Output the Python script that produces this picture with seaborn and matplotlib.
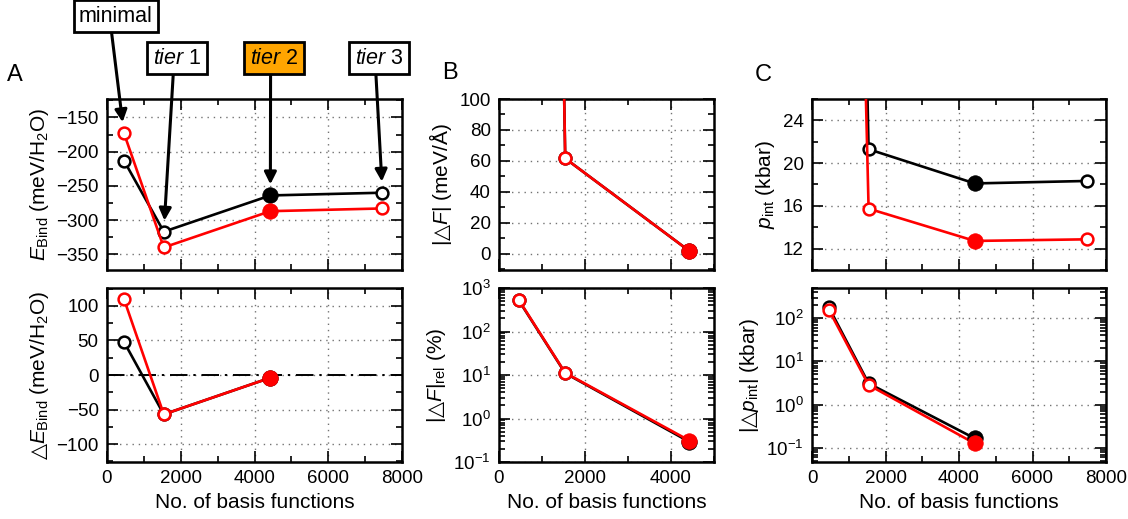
import matplotlib
matplotlib.use("Agg")
import matplotlib.pyplot as plt
import matplotlib.ticker as mticker
import numpy as np
import pandas as pd
import seaborn as sns

# ---- data -------------------------------------------------------------
basis_n = [460, 1540, 4430, 7470]          # minimal, tier 1, tier 2, tier 3
basis_names = ["minimal", "tier 1", "tier 2", "tier 3"]
ref_index = 2                              # tier 2 is the reference basis

ebind_black = [-213, -317, -264, -260]
ebind_red = [-173, -340, -287, -283]

debind_black = [48, -57, -4]
debind_red = [110, -57, -4]

force_black = [1800, 61.6, 1.7]
force_red = [1800, 61.6, 1.7]

force_rel_black = [520, 11.0, 0.29]
force_rel_red = [532, 11.2, 0.31]

p_black = [195, 21.3, 18.1, 18.33]
p_red = [169, 15.74, 12.72, 12.87]

dp_black = [177, 3.1, 0.165]
dp_red = [156, 2.85, 0.126]

# ---- style ------------------------------------------------------------
sns.set_style("ticks")
plt.rcParams["font.family"] = ["Liberation Sans", "DejaVu Sans"]
plt.rcParams["mathtext.fontset"] = "custom"
plt.rcParams["mathtext.rm"] = "Liberation Sans"
plt.rcParams["mathtext.it"] = "Liberation Sans:italic"
plt.rcParams["mathtext.bf"] = "Liberation Sans:bold"
plt.rcParams["mathtext.sf"] = "DejaVu Sans"
plt.rcParams["axes.unicode_minus"] = True
for key in ["axes.edgecolor", "xtick.color", "ytick.color", "text.color",
            "axes.labelcolor"]:
    plt.rcParams[key] = "black"

TICK_FS = 13.5
LABEL_FS = 15
RED = "#ff0000"
BLACK = "#000000"
TRI = r"\mathsf{△}"

fig = plt.figure(figsize=(11.28, 5.19), dpi=100)
W, H = 1128.0, 519.0


def add_axes(left, top, right, bottom):
    return fig.add_axes([left / W, 1 - bottom / H, (right - left) / W, (bottom - top) / H])


axA1 = add_axes(107, 99, 402, 270)
axA2 = add_axes(107, 288, 402, 462)
axB1 = add_axes(499, 99, 714, 270)
axB2 = add_axes(499, 288, 714, 462)
axC1 = add_axes(812, 99, 1106, 270)
axC2 = add_axes(812, 288, 1106, 462)


def style(ax, xmax, xlabels):
    for s in ax.spines.values():
        s.set_linewidth(1.8)
        s.set_color("black")
    ax.set_xlim(0, xmax)
    ax.xaxis.set_major_locator(mticker.MultipleLocator(2000))
    ax.xaxis.set_minor_locator(mticker.MultipleLocator(1000))
    ax.tick_params(which="both", direction="in", top=True, right=True,
                   labelsize=TICK_FS, width=1.2, pad=6, color="black")
    ax.tick_params(which="major", length=8)
    ax.tick_params(which="minor", length=4.5)
    ax.grid(True, which="major", ls=(0, (1, 3.5)), color="0.45", lw=1)
    ax.set_axisbelow(True)
    if xlabels:
        ax.set_xlabel("No. of basis functions", fontsize=LABEL_FS)
    else:
        ax.tick_params(labelbottom=False)


def series(ax, xs, ys, color):
    df = pd.DataFrame({"n": xs, "v": ys})
    sns.lineplot(data=df, x="n", y="v", ax=ax, color=color, lw=1.9,
                 estimator=None, sort=False, marker="o", markersize=8.5,
                 markerfacecolor="white", markeredgecolor=color,
                 markeredgewidth=1.8, zorder=3)
    ref = df.iloc[[ref_index]] if len(df) > ref_index else df.iloc[[]]
    sns.scatterplot(data=ref, x="n", y="v", ax=ax, color=color, s=125,
                    edgecolor=color, linewidth=0.5, zorder=4)
    ax.set_xlabel("")
    ax.set_ylabel("")


# ---- panel A ----------------------------------------------------------
series(axA1, basis_n, ebind_black, BLACK)
series(axA1, basis_n, ebind_red, RED)
style(axA1, 8000, False)
axA1.set_ylim(-373, -123)
axA1.yaxis.set_major_locator(mticker.MultipleLocator(50))
axA1.yaxis.set_minor_locator(mticker.MultipleLocator(25))
axA1.set_ylabel(r"$E_{\rm Bind}$ (meV/H$_2$O)", fontsize=LABEL_FS)

axA2.axhline(0, color="black", lw=1.4, ls=(0, (9, 3, 1.2, 3)), zorder=2)
series(axA2, basis_n[:3], debind_black, BLACK)
series(axA2, basis_n[:3], debind_red, RED)
style(axA2, 8000, True)
axA2.set_ylim(-126, 126)
axA2.yaxis.set_major_locator(mticker.MultipleLocator(50))
axA2.yaxis.set_minor_locator(mticker.MultipleLocator(25))
axA2.set_ylabel(r"$" + TRI + r"E_{\rm Bind}$ (meV/H$_2$O)", fontsize=LABEL_FS)

# ---- panel B ----------------------------------------------------------
series(axB1, basis_n[:3], force_black, BLACK)
series(axB1, basis_n[:3], force_red, RED)
style(axB1, 5000, False)
axB1.set_ylim(-10.5, 100)
axB1.yaxis.set_major_locator(mticker.MultipleLocator(20))
axB1.yaxis.set_minor_locator(mticker.MultipleLocator(10))
axB1.set_ylabel(r"$|" + TRI + r"F|$ (meV/Å)", fontsize=LABEL_FS)

series(axB2, basis_n[:3], force_rel_black, BLACK)
series(axB2, basis_n[:3], force_rel_red, RED)
axB2.set_yscale("log")
style(axB2, 5000, True)
axB2.set_ylim(0.1, 1000)
axB2.yaxis.set_major_locator(mticker.LogLocator(base=10, numticks=10))
axB2.yaxis.set_minor_locator(mticker.LogLocator(base=10, subs=np.arange(2, 10), numticks=10))
axB2.set_ylabel(r"$|" + TRI + r"F|_{\rm rel}$ (%)", fontsize=LABEL_FS)

# ---- panel C ----------------------------------------------------------
series(axC1, basis_n, p_black, BLACK)
series(axC1, basis_n, p_red, RED)
style(axC1, 8000, False)
axC1.set_ylim(10, 26)
axC1.yaxis.set_major_locator(mticker.MultipleLocator(4))
axC1.yaxis.set_minor_locator(mticker.MultipleLocator(2))
axC1.set_ylabel(r"$p_{\rm int}$ (kbar)", fontsize=LABEL_FS)

series(axC2, basis_n[:3], dp_black, BLACK)
series(axC2, basis_n[:3], dp_red, RED)
axC2.set_yscale("log")
style(axC2, 8000, True)
axC2.set_ylim(0.047, 500)
axC2.yaxis.set_major_locator(mticker.LogLocator(base=10, numticks=10))
axC2.yaxis.set_minor_locator(mticker.LogLocator(base=10, subs=np.arange(2, 10), numticks=10))
axC2.set_ylabel(r"$|" + TRI + r"p_{\rm int}|$ (kbar)", fontsize=LABEL_FS)

# align y labels of stacked panels
for a, b in [(axA1, axA2), (axB1, axB2), (axC1, axC2)]:
    fig.align_ylabels([a, b])

# ---- panel letters ----------------------------------------------------
for label, (px, py) in zip("ABC", [(15, 75), (450, 73), (763, 75)]):
    fig.text(px / W, 1 - py / H, label, fontsize=17, ha="center", va="center")

# ---- basis-set annotations --------------------------------------------
box_centres = [(116, 16), (177, 58), (274, 58), (379, 58)]
box_labels = ["minimal", r"$\mathit{tier}$ 1", r"$\mathit{tier}$ 2", r"$\mathit{tier}$ 3"]
targets = [ebind_red[0], ebind_black[1], ebind_black[2], ebind_black[3]]
for i, (lab, (cx, cy), ty) in enumerate(zip(box_labels, box_centres, targets)):
    face = "#ffa500" if i == ref_index else "white"
    axA1.annotate(
        lab, xy=(basis_n[i], ty), xycoords="data",
        xytext=(cx / W, 1 - cy / H), textcoords="figure fraction",
        ha="center", va="center", fontsize=15.5, annotation_clip=False,
        bbox=dict(boxstyle="square,pad=0.25", fc=face, ec="black", lw=2),
        arrowprops=dict(arrowstyle="-|>", color="black", lw=2.2,
                        mutation_scale=18, shrinkA=0, shrinkB=8,
                        relpos=(0.43, 0.0)),
        zorder=10,
    )

fig.savefig("out.png", dpi=100)
